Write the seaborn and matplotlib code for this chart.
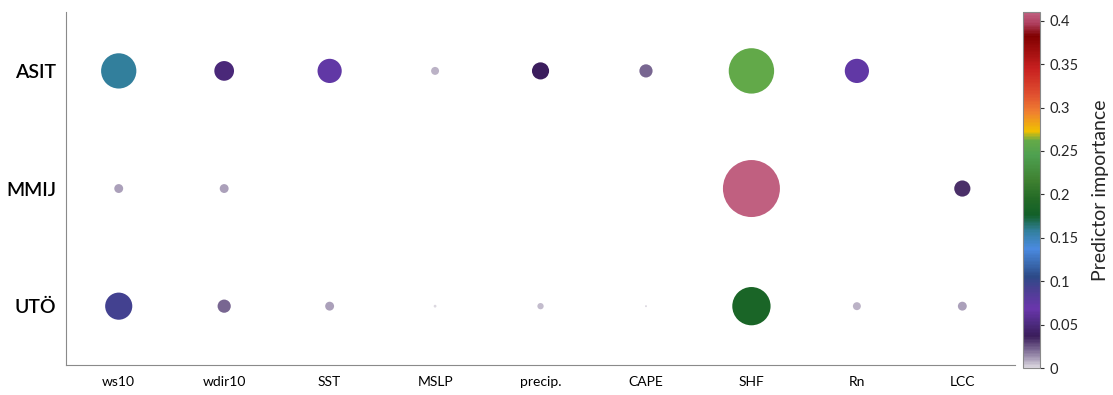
import numpy as np
import pandas as pd
import matplotlib
matplotlib.use("Agg")
import matplotlib.pyplot as plt
from matplotlib.colors import LinearSegmentedColormap, Normalize
from matplotlib.cm import ScalarMappable
import seaborn as sns

# Predictor importance per station and predictor (NaN = not used)
predictors = ["ws10", "wdir10", "SST", "MSLP", "precip.", "CAPE", "SHF", "Rn", "LCC"]
stations = ["ASIT", "MMIJ", "UTÖ"]
asit = [0.157, 0.049, 0.074, 0.008, 0.037, 0.022, 0.260, 0.074, np.nan]
mmij = [0.010, 0.010, np.nan, np.nan, np.nan, np.nan, 0.410, np.nan, 0.033]
uto = [0.093, 0.022, 0.010, 0.001, 0.005, 0.0005, 0.185, 0.008, 0.010]

vmax = 0.41
cticks = [0, 0.05, 0.1, 0.15, 0.2, 0.25, 0.3, 0.35, 0.4]

anchors = [
    (0.000, "#dcd8e0"), (0.008, "#b3a9c0"), (0.020, "#7c6a94"),
    (0.036, "#3a1c5a"), (0.050, "#4c2a7e"), (0.068, "#6a36ac"),
    (0.090, "#4a3f92"), (0.105, "#2c4a88"), (0.120, "#3a6ab0"),
    (0.137, "#4a8ae0"), (0.157, "#3380a0"), (0.176, "#126028"),
    (0.195, "#236a26"), (0.215, "#3e8030"), (0.245, "#4ea050"),
    (0.262, "#64aa48"), (0.273, "#f0c000"), (0.295, "#f08030"),
    (0.315, "#e05030"), (0.345, "#c82020"), (0.383, "#800000"),
    (0.398, "#b04060"), (0.410, "#c06080"),
]
cmap = LinearSegmentedColormap.from_list(
    "importance", [(v / vmax, c) for v, c in anchors])
norm = Normalize(0, vmax)

df = pd.DataFrame({
    "predictor": predictors * 3,
    "station": [s for s in stations for _ in predictors],
    "importance": asit + mmij + uto,
}).dropna()
df["x"] = df["predictor"].map({p: i for i, p in enumerate(predictors)})
df["y"] = df["station"].map({s: 2 - i for i, s in enumerate(stations)})

sns.set_style("white")
plt.rcParams["font.family"] = ["Lato", "DejaVu Sans"]

fig = plt.figure(figsize=(11.13, 3.95), dpi=100)
ax = fig.add_axes([0.0593, 0.076, 0.8527, 0.8934])
cax = fig.add_axes([0.9191, 0.0683, 0.0153, 0.9013])

# marker area (pt^2) scales linearly with importance
max_diam_pt = 57 / 1.389
sns.scatterplot(data=df, x="x", y="y", hue="importance", size="importance",
                palette=cmap, hue_norm=norm, sizes=(0, max_diam_pt ** 2),
                size_norm=(0, vmax), linewidth=0, legend=False, ax=ax)

ax.set_xlim(-0.5, 8.5)
ax.set_ylim(-0.5, 2.5)
ax.set_xticks(range(len(predictors)))
ax.set_xticklabels(predictors, fontsize=10)
ax.set_yticks([2, 1, 0])
ax.set_yticklabels(stations, fontsize=14, fontweight="semibold")
ax.set_xlabel("")
ax.set_ylabel("")
for side in ["top", "right"]:
    ax.spines[side].set_visible(False)
for side in ["left", "bottom"]:
    ax.spines[side].set_color("#8a8a8a")
    ax.spines[side].set_linewidth(0.8)
ax.tick_params(direction="in", length=7, width=0.8, color="#8a8a8a",
               labelcolor="black")
ax.tick_params(axis="x", pad=8)
ax.tick_params(axis="y", pad=7)

sm = ScalarMappable(norm=norm, cmap=cmap)
cb = fig.colorbar(sm, cax=cax, ticks=cticks)
cb.ax.set_yticklabels(["0", "0.05", "0.1", "0.15", "0.2", "0.25", "0.3",
                       "0.35", "0.4"], fontsize=10.5)
cb.outline.set_edgecolor("#8a8a8a")
cb.outline.set_linewidth(0.8)
cb.ax.tick_params(length=3, width=0.8, color="#333333")
cb.set_label("Predictor importance", fontsize=14, labelpad=10)

fig.savefig("out.png", dpi=100)
